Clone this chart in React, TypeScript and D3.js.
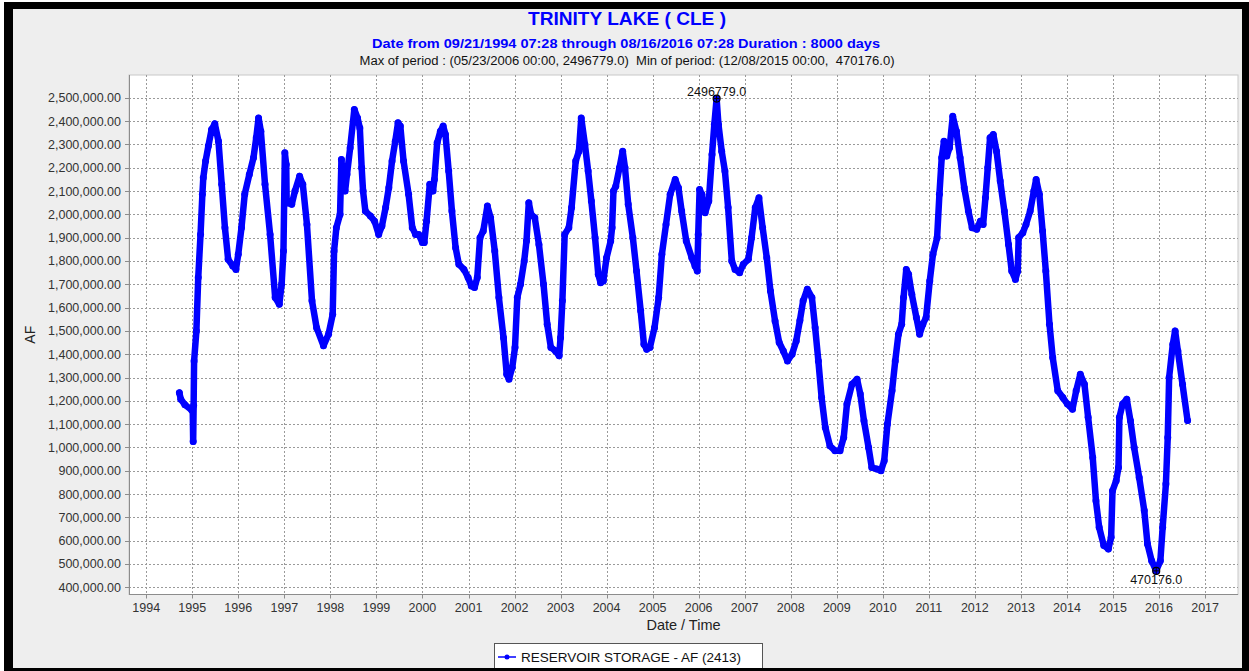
import React, { useEffect, useRef } from 'react'
import * as d3 from 'd3'

// storage readings (decimal year, acre-feet)
const years = [
  1994.72, 1994.75, 1994.84, 1994.99, 1995.01, 1995.02, 1995.03, 1995.04, 1995.09, 1995.13,
  1995.18, 1995.22, 1995.24, 1995.29, 1995.35, 1995.42, 1995.49, 1995.57, 1995.64, 1995.71,
  1995.78, 1995.88, 1995.95, 1996.0, 1996.07, 1996.14, 1996.24, 1996.33, 1996.39, 1996.44,
  1996.49, 1996.58, 1996.69, 1996.8, 1996.89, 1996.94, 1996.98, 1997.01, 1997.04, 1997.05,
  1997.16, 1997.23, 1997.33, 1997.4, 1997.49, 1997.6, 1997.7, 1997.85, 1997.96, 1998.05,
  1998.08, 1998.13, 1998.21, 1998.24, 1998.27, 1998.32, 1998.36, 1998.43, 1998.52, 1998.59,
  1998.64, 1998.68, 1998.71, 1998.76, 1998.87, 1998.96, 1999.05, 1999.12, 1999.2, 1999.27,
  1999.34, 1999.41, 1999.47, 1999.52, 1999.59, 1999.7, 1999.78, 1999.85, 1999.92, 2000.0,
  2000.04, 2000.09, 2000.16, 2000.23, 2000.26, 2000.32, 2000.39, 2000.45, 2000.5, 2000.57,
  2000.64, 2000.72, 2000.79, 2000.9, 2000.99, 2001.06, 2001.13, 2001.19, 2001.25, 2001.32,
  2001.41, 2001.48, 2001.57, 2001.66, 2001.76, 2001.83, 2001.88, 2001.95, 2002.01, 2002.06,
  2002.13, 2002.21, 2002.26, 2002.31, 2002.36, 2002.44, 2002.53, 2002.63, 2002.71, 2002.79,
  2002.89, 2002.97, 2003.0, 2003.04, 2003.09, 2003.18, 2003.24, 2003.33, 2003.4, 2003.45,
  2003.53, 2003.6, 2003.67, 2003.75, 2003.82, 2003.87, 2003.93, 2004.0, 2004.09, 2004.12,
  2004.15, 2004.2, 2004.28, 2004.35, 2004.4, 2004.47, 2004.57, 2004.65, 2004.74, 2004.81,
  2004.87, 2004.94, 2005.04, 2005.13, 2005.2, 2005.29, 2005.38, 2005.49, 2005.56, 2005.63,
  2005.73, 2005.85, 2005.92, 2005.97, 2005.99, 2006.02, 2006.07, 2006.14, 2006.22, 2006.29,
  2006.34, 2006.39, 2006.43, 2006.5, 2006.57, 2006.64, 2006.72, 2006.79, 2006.89, 2006.97,
  2007.08, 2007.15, 2007.23, 2007.31, 2007.39, 2007.48, 2007.56, 2007.66, 2007.75, 2007.84,
  2007.93, 2008.03, 2008.12, 2008.2, 2008.27, 2008.36, 2008.46, 2008.53, 2008.6, 2008.67,
  2008.75, 2008.85, 2008.96, 2009.07, 2009.15, 2009.22, 2009.33, 2009.44, 2009.51, 2009.59,
  2009.69, 2009.76, 2009.87, 2009.96, 2010.03, 2010.1, 2010.2, 2010.27, 2010.34, 2010.41,
  2010.45, 2010.51, 2010.56, 2010.63, 2010.73, 2010.8, 2010.87, 2010.94, 2011.02, 2011.09,
  2011.18, 2011.23, 2011.28, 2011.33, 2011.39, 2011.45, 2011.52, 2011.6, 2011.68, 2011.77,
  2011.86, 2011.94, 2012.04, 2012.12, 2012.18, 2012.23, 2012.28, 2012.33, 2012.4, 2012.47,
  2012.55, 2012.64, 2012.73, 2012.8, 2012.88, 2012.93, 2012.95, 2013.04, 2013.11, 2013.2,
  2013.28, 2013.33, 2013.4, 2013.47, 2013.54, 2013.62, 2013.69, 2013.8, 2013.91, 2014.01,
  2014.12, 2014.2, 2014.29, 2014.38, 2014.46, 2014.56, 2014.63, 2014.7, 2014.8, 2014.9,
  2014.96, 2014.99, 2015.07, 2015.12, 2015.14, 2015.21, 2015.3, 2015.38, 2015.46, 2015.57,
  2015.68, 2015.75, 2015.84, 2015.94, 2016.03, 2016.08, 2016.15, 2016.19, 2016.22, 2016.3,
  2016.35, 2016.41, 2016.51, 2016.62
]
const storage = [
  1235000, 1207000, 1183000, 1160000, 1165000, 1025000, 1180000, 1371000, 1500000, 1729000,
  1914000, 2086000, 2157000, 2229000, 2293000, 2364000, 2389000, 2314000, 2129000, 1943000,
  1807000, 1779000, 1764000, 1829000, 1943000, 2086000, 2171000, 2243000, 2329000, 2414000,
  2357000, 2129000, 1914000, 1643000, 1614000, 1700000, 1843000, 2264000, 2214000, 2050000,
  2043000, 2100000, 2164000, 2129000, 1957000, 1629000, 1514000, 1436000, 1486000, 1571000,
  1843000, 1943000, 2000000, 2236000, 2157000, 2100000, 2171000, 2286000, 2450000, 2414000,
  2371000, 2200000, 2100000, 2014000, 1993000, 1971000, 1914000, 1950000, 2029000, 2114000,
  2229000, 2314000, 2393000, 2379000, 2229000, 2086000, 1943000, 1914000, 1914000, 1879000,
  1879000, 1971000, 2129000, 2100000, 2150000, 2307000, 2357000, 2379000, 2343000, 2186000,
  2014000, 1857000, 1786000, 1764000, 1729000, 1693000, 1686000, 1729000, 1900000, 1929000,
  2036000, 1986000, 1843000, 1643000, 1471000, 1314000, 1293000, 1343000, 1429000, 1643000,
  1700000, 1800000, 1886000, 2050000, 2000000, 1986000, 1871000, 1700000, 1529000, 1429000,
  1414000, 1393000, 1471000, 1629000, 1914000, 1943000, 2029000, 2229000, 2271000, 2414000,
  2300000, 2186000, 2057000, 1900000, 1743000, 1707000, 1714000, 1814000, 1886000, 1943000,
  2100000, 2121000, 2200000, 2271000, 2200000, 2043000, 1900000, 1757000, 1586000, 1443000,
  1421000, 1429000, 1514000, 1643000, 1829000, 1957000, 2086000, 2150000, 2114000, 2014000,
  1886000, 1814000, 1779000, 1757000, 1914000, 2107000, 2086000, 2007000, 2057000, 2257000,
  2386000, 2496779, 2386000, 2271000, 2186000, 2029000, 1800000, 1764000, 1750000, 1786000,
  1807000, 1900000, 2029000, 2071000, 1943000, 1814000, 1671000, 1543000, 1450000, 1414000,
  1371000, 1400000, 1457000, 1545000, 1629000, 1679000, 1643000, 1514000, 1371000, 1214000,
  1086000, 1007000, 986000, 986000, 1043000, 1186000, 1271000, 1293000, 1229000, 1114000,
  1000000, 914000, 907000, 900000, 943000, 1100000, 1243000, 1371000, 1486000, 1529000,
  1643000, 1764000, 1743000, 1657000, 1557000, 1486000, 1529000, 1557000, 1714000, 1829000,
  1900000, 2086000, 2243000, 2314000, 2250000, 2286000, 2421000, 2357000, 2243000, 2114000,
  2014000, 1943000, 1936000, 1971000, 1957000, 2071000, 2200000, 2329000, 2343000, 2271000,
  2143000, 2014000, 1871000, 1757000, 1721000, 1757000, 1900000, 1921000, 1957000, 2014000,
  2100000, 2150000, 2086000, 1929000, 1757000, 1529000, 1386000, 1243000, 1214000, 1186000,
  1164000, 1243000, 1314000, 1271000, 1129000, 957000, 771000, 657000, 579000, 564000,
  614000, 814000, 857000, 914000, 1129000, 1186000, 1207000, 1114000, 1000000, 871000,
  729000, 586000, 514000, 470176, 514000, 657000, 843000, 1043000, 1300000, 1443000,
  1500000, 1414000, 1271000, 1115000
]

const periodStart = 1994.72 // 09/21/1994
const periodEnd = 2016.62 // 08/16/2016
const extremeYears = [2006.39, 2015.94]
const extremeValues = [2496779, 470176]
const extremeLabels = ['2496779.0', '470176.0']

const yearTicks = [1994, 1995, 1996, 1997, 1998, 1999, 2000, 2001, 2002, 2003, 2004, 2005,
  2006, 2007, 2008, 2009, 2010, 2011, 2012, 2013, 2014, 2015, 2016, 2017]
const storageTicks = [400000, 500000, 600000, 700000, 800000, 900000, 1000000, 1100000,
  1200000, 1300000, 1400000, 1500000, 1600000, 1700000, 1800000, 1900000, 2000000,
  2100000, 2200000, 2300000, 2400000, 2500000]

const FONT = '"Liberation Sans", Arial, sans-serif'

function toDate(t: number) {
  const y = Math.floor(t)
  const s = Date.UTC(y, 0, 1)
  const e = Date.UTC(y + 1, 0, 1)
  return new Date(s + (t - y) * (e - s))
}

function drawChart(svg: d3.Selection<SVGSVGElement, unknown, null, undefined>) {
  const left = 129, right = 1238, top = 75, bottom = 594.5

  // frame
  svg.append('rect').attr('width', 1249).attr('height', 671).attr('fill', '#ffffff')
  svg.append('rect').attr('x', 4).attr('y', 2).attr('width', 1245).attr('height', 669).attr('fill', '#000')
  svg.append('rect').attr('x', 13).attr('y', 9).attr('width', 1229).attr('height', 659).attr('fill', '#eeeeee')

  const xPad = (periodEnd - periodStart) * 0.05
  const x = d3.scaleUtc()
    .domain([toDate(periodStart - xPad), toDate(periodEnd + xPad)])
    .range([left, right])
  const [vMin, vMax] = d3.extent(storage) as [number, number]
  const yPad = (vMax - vMin) * 0.05
  const y = d3.scaleLinear().domain([vMin - yPad, vMax + yPad]).range([bottom, top])

  svg.append('rect')
    .attr('x', left).attr('y', top)
    .attr('width', right - left).attr('height', bottom - top)
    .attr('fill', '#fff').attr('stroke', '#c8c8c8')

  const grid = svg.append('g').attr('stroke', '#9a9a9a').attr('stroke-dasharray', '2,2')
  grid.selectAll('.gy').data(storageTicks).join('line')
    .attr('x1', left).attr('x2', right)
    .attr('y1', d => Math.round(y(d)) + 0.5).attr('y2', d => Math.round(y(d)) + 0.5)
  grid.selectAll('.gx').data(yearTicks).join('line')
    .attr('y1', top).attr('y2', bottom)
    .attr('x1', d => Math.round(x(toDate(d))) + 0.5).attr('x2', d => Math.round(x(toDate(d))) + 0.5)

  // axes
  const ax = svg.append('g').attr('stroke', '#8c8c8c')
  ax.append('line').attr('x1', left + 0.5).attr('x2', left + 0.5).attr('y1', top).attr('y2', bottom)
  ax.append('line').attr('x1', left).attr('x2', right).attr('y1', bottom).attr('y2', bottom)
  ax.selectAll('.ty').data(storageTicks).join('line')
    .attr('x1', left - 4).attr('x2', left)
    .attr('y1', d => Math.round(y(d)) + 0.5).attr('y2', d => Math.round(y(d)) + 0.5)
  ax.selectAll('.tx').data(yearTicks).join('line')
    .attr('y1', bottom).attr('y2', bottom + 4)
    .attr('x1', d => Math.round(x(toDate(d))) + 0.5).attr('x2', d => Math.round(x(toDate(d))) + 0.5)

  const fmt = d3.format(',.2f')
  svg.append('g').selectAll('text').data(storageTicks).join('text')
    .attr('x', left - 8).attr('y', d => y(d) + 4.5)
    .attr('text-anchor', 'end').attr('font-family', FONT).attr('font-size', 12.5).attr('fill', '#333')
    .text(d => fmt(d))
  svg.append('g').selectAll('text').data(yearTicks).join('text')
    .attr('x', d => x(toDate(d))).attr('y', bottom + 17)
    .attr('text-anchor', 'middle').attr('font-family', FONT).attr('font-size', 12.5).attr('fill', '#333')
    .text(d => String(d))

  svg.append('text')
    .attr('transform', `translate(35,${(top + bottom) / 2}) rotate(-90)`)
    .attr('text-anchor', 'middle').attr('font-family', FONT).attr('font-size', 14).attr('fill', '#222')
    .text('AF')
  svg.append('text')
    .attr('x', (left + right) / 2).attr('y', 630)
    .attr('text-anchor', 'middle').attr('font-family', FONT).attr('font-size', 14.5).attr('fill', '#222')
    .text('Date / Time')

  // titles
  svg.append('text').attr('x', 627).attr('y', 25).attr('text-anchor', 'middle')
    .attr('font-family', FONT).attr('font-size', 18).attr('font-weight', 'bold').attr('fill', '#0000ff')
    .attr('textLength', 198).attr('lengthAdjust', 'spacingAndGlyphs')
    .text('TRINITY LAKE ( CLE )')
  svg.append('text').attr('x', 626).attr('y', 48).attr('text-anchor', 'middle')
    .attr('font-family', FONT).attr('font-size', 13).attr('font-weight', 'bold').attr('fill', '#0000ff')
    .attr('textLength', 508).attr('lengthAdjust', 'spacingAndGlyphs')
    .text('Date from 09/21/1994 07:28 through 08/16/2016 07:28 Duration : 8000 days')
  svg.append('text').attr('x', 627).attr('y', 65).attr('text-anchor', 'middle')
    .attr('font-family', FONT).attr('font-size', 12).attr('fill', '#111')
    .attr('textLength', 535).attr('lengthAdjust', 'spacingAndGlyphs')
    .attr('xml:space', 'preserve')
    .text('Max of period : (05/23/2006 00:00, 2496779.0)  Min of period: (12/08/2015 00:00,  470176.0)')

  // series
  const pts = years.map((t, i) => [x(toDate(t)), y(storage[i])] as [number, number])
  svg.append('path')
    .attr('d', d3.line()(pts))
    .attr('fill', 'none').attr('stroke', '#0000ff').attr('stroke-width', 6.5)
    .attr('stroke-linejoin', 'round').attr('stroke-linecap', 'round')
  svg.append('g').selectAll('circle').data(pts).join('circle')
    .attr('cx', d => d[0]).attr('cy', d => d[1]).attr('r', 3.5).attr('fill', '#0000ff')

  // max / min markers
  extremeYears.forEach((t, i) => {
    const px = x(toDate(t)), py = y(extremeValues[i])
    const g = svg.append('g')
    g.append('circle').attr('cx', px).attr('cy', py).attr('r', 3.5)
      .attr('fill', '#0000ff').attr('stroke', '#000').attr('stroke-width', 1.2)
    g.append('path').attr('d', `M${px - 3},${py}H${px + 3}M${px},${py - 3}V${py + 3}`)
      .attr('stroke', '#000').attr('stroke-width', 1)
    g.append('text').attr('x', px).attr('y', i === 0 ? py - 3 : py + 13)
      .attr('text-anchor', 'middle').attr('font-family', FONT).attr('font-size', 12.5).attr('fill', '#111')
      .text(extremeLabels[i])
  })

  // legend
  const lg = svg.append('g')
  lg.append('rect').attr('x', 494.5).attr('y', 643.5).attr('width', 268).attr('height', 30)
    .attr('fill', '#fff').attr('stroke', '#555')
  lg.append('line').attr('x1', 498).attr('x2', 516).attr('y1', 657).attr('y2', 657)
    .attr('stroke', '#0000ff').attr('stroke-width', 1.5)
  lg.append('circle').attr('cx', 507).attr('cy', 657).attr('r', 2.5).attr('fill', '#0000ff')
  lg.append('text').attr('x', 521).attr('y', 662)
    .attr('font-family', FONT).attr('font-size', 13.5).attr('fill', '#111')
    .text('RESERVOIR STORAGE - AF (2413)')
  // bottom edge of the frame covers the legend
  svg.append('rect').attr('x', 4).attr('y', 668).attr('width', 1245).attr('height', 3).attr('fill', '#000')
}

export default function App() {
  const ref = useRef<SVGSVGElement>(null)
  useEffect(() => {
    const svg = d3.select(ref.current as SVGSVGElement)
    svg.selectAll('*').remove()
    drawChart(svg)
  }, [])
  return (
    <svg ref={ref} width={1249} height={671}
      style={{ position: 'absolute', left: 0, top: 0, display: 'block' }} />
  )
}
